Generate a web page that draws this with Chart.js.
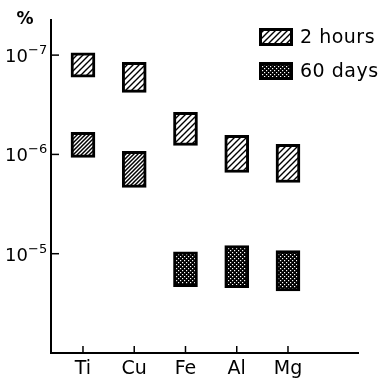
<!DOCTYPE html>
<html>
<head>
<meta charset="UTF-8">
<script src="https://cdn.jsdelivr.net/npm/chart.js"></script>
<style>
    body { margin: 0; background: #fff; }
    #wrap { width: 384px; height: 380px; }
</style>
</head>
<body>
<div id="wrap"><canvas id="chart" width="384" height="380"></canvas></div>
<script>
    // values (fraction, log scale, inverted)
    const elements = ['Ti', 'Cu', 'Fe', 'Al', 'Mg'];
    const hours2 = [[0.95e-7, 1.67e-7], [1.18e-7, 2.37e-7], [3.76e-7, 8.1e-7], [6.43e-7, 1.52e-6], [7.9e-7, 1.92e-6]];
    const hours2Low = [[6.0e-7, 1.07e-6], [9.3e-7, 2.15e-6], null, null, null];
    const days60 = [null, null, [9.55e-6, 2.15e-5], [8.3e-6, 2.2e-5], [9.3e-6, 2.37e-5]];
    const yTicks = [1e-7, 1e-6, 1e-5];
    const legendLabels = ['2 hours', '60 days'];

    const ctx = document.getElementById('chart').getContext('2d');
    const FONT = 'DejaVu Sans';

    function hatch(step, lw) {
        const c = document.createElement('canvas');
        c.width = c.height = step;
        const g = c.getContext('2d');
        g.fillStyle = '#fff';
        g.fillRect(0, 0, step, step);
        g.strokeStyle = '#000';
        g.lineWidth = lw;
        g.beginPath();
        g.moveTo(-1, step + 1); g.lineTo(step + 1, -1);
        g.moveTo(-1, 1); g.lineTo(1, -1);
        g.moveTo(step - 1, step + 1); g.lineTo(step + 1, step - 1);
        g.stroke();
        return ctx.createPattern(c, 'repeat');
    }

    function dots() {
        const c = document.createElement('canvas');
        c.width = c.height = 4;
        const g = c.getContext('2d');
        g.fillStyle = '#000';
        g.fillRect(0, 0, 4, 4);
        g.fillStyle = '#fff';
        g.fillRect(0, 0, 1.2, 1.2);
        g.fillRect(2, 2, 1.2, 1.2);
        return ctx.createPattern(c, 'repeat');
    }

    const pat2h = hatch(6, 1.4);
    const pat2hDense = hatch(4, 1.5);
    const pat60 = dots();

    const toPoints = arr => arr.map((r, i) => r ? { x: i + 1, y: r } : null).filter(p => p);

    // ticks inside the axes, exponent labels, legend
    const decor = {
        id: 'decor',
        afterDraw(chart) {
            const c = chart.ctx, a = chart.chartArea;
            const ys = chart.scales.y, xs = chart.scales.x;
            c.save();
            c.strokeStyle = '#000';
            c.fillStyle = '#000';
            c.lineWidth = 1.5;
            yTicks.forEach(v => {
                const py = ys.getPixelForValue(v);
                c.beginPath(); c.moveTo(a.left, py); c.lineTo(a.left + 8, py); c.stroke();
                const exp = Math.round(Math.log10(v));
                c.textBaseline = 'alphabetic';
                c.textAlign = 'left';
                c.font = '18px ' + FONT;
                c.fillText('10', 5, py + 7);
                c.font = '13px ' + FONT;
                c.fillText(String(exp).replace('-', '\u2212'), 28, py - 1);
            });
            elements.forEach((e, i) => {
                const px = xs.getPixelForValue(i + 1);
                c.beginPath(); c.moveTo(px, a.bottom); c.lineTo(px, a.bottom - 7); c.stroke();
            });
            c.font = 'bold 17px ' + FONT;
            c.textAlign = 'center';
            c.textBaseline = 'middle';
            c.fillText('%', 25, 20);

            // legend
            const pats = [pat2h, pat60];
            const boxY = [28, 62];
            legendLabels.forEach((t, i) => {
                c.fillStyle = pats[i];
                c.fillRect(259, boxY[i], 34, 18);
                c.lineWidth = 3;
                c.strokeRect(260.5, boxY[i] + 1.5, 31, 15);
                c.fillStyle = '#000';
                c.font = '19px ' + FONT;
                c.letterSpacing = '0.5px';
                c.textAlign = 'left';
                c.textBaseline = 'middle';
                c.fillText(t, 300, boxY[i] + 10);
                c.letterSpacing = '0px';
            });
            c.restore();
        }
    };

    new Chart(ctx, {
        type: 'bar',
        data: {
            datasets: [
                { label: legendLabels[0], data: toPoints(hours2), backgroundColor: pat2h },
                { label: '', data: toPoints(hours2Low), backgroundColor: pat2hDense },
                { label: legendLabels[1], data: toPoints(days60), backgroundColor: pat60 }
            ]
        },
        options: {
            responsive: false,
            animation: false,
            layout: { padding: { top: 20, right: 26, left: 0, bottom: 0 } },
            datasets: {
                bar: { grouped: false, barThickness: 24, borderColor: '#000', borderWidth: 3, borderSkipped: false }
            },
            plugins: { legend: { display: false }, tooltip: { enabled: false } },
            scales: {
                x: {
                    type: 'linear', min: 0.376, max: 6.366, offset: false,
                    grid: { display: false, drawTicks: false },
                    border: { color: '#000', width: 2 },
                    afterBuildTicks: s => { s.ticks = elements.map((e, i) => ({ value: i + 1 })); },
                    ticks: {
                        callback: v => elements[v - 1], color: '#000',
                        font: { family: FONT, size: 19 }, padding: 5, autoSkip: false, maxRotation: 0
                    },
                    afterFit: s => { s.height = 27; }
                },
                y: {
                    type: 'logarithmic', reverse: true, min: 4.43e-8, max: 1e-4,
                    grid: { display: false, drawTicks: false },
                    border: { color: '#000', width: 2 },
                    afterBuildTicks: s => { s.ticks = yTicks.map(v => ({ value: v })); },
                    ticks: { display: false },
                    afterFit: s => { s.width = 51; }
                }
            }
        },
        plugins: [decor]
    });
</script>
</body>
</html>
